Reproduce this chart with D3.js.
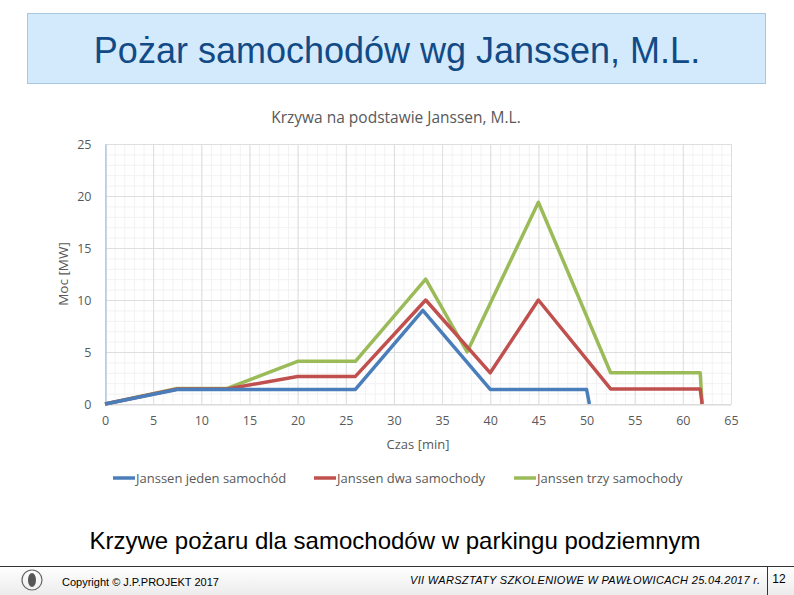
<!DOCTYPE html>
<html>
<head>
<meta charset="utf-8">
<script src="https://cdn.jsdelivr.net/npm/d3@7"></script>
<style>
  body { margin: 0; background: #fff; }
  svg { display: block; }
</style>
</head>
<body>
<div id="chart"></div>
<script>
// values
var seriesNames = ['Janssen jeden samochód', 'Janssen dwa samochody', 'Janssen trzy samochody'];
var seriesColors = ['#4a7ebb', '#c0504d', '#9bbb59'];

var jedenTime = [0, 7.5, 26, 33, 40, 50, 50.3];
var jedenPower = [0, 1.4, 1.4, 9, 1.4, 1.4, 0];

var dwaTime = [0, 7.5, 12.7, 20, 26, 33.3, 40, 45, 52.5, 61.8, 62];
var dwaPower = [0, 1.45, 1.45, 2.65, 2.65, 10, 3, 10, 1.45, 1.45, 0];

var trzyTime = [0, 7.5, 12.7, 20, 26, 33.3, 37.6, 45, 52.5, 61.8, 62];
var trzyPower = [0, 1.5, 1.5, 4.1, 4.1, 12, 5, 19.4, 3, 3, 0];

var xTicks = [0, 5, 10, 15, 20, 25, 30, 35, 40, 45, 50, 55, 60, 65];
var yTicks = [0, 5, 10, 15, 20, 25];

var width = 794, height = 595;
var plot = {left: 105, right: 731, top: 144, bottom: 404};

var svg = d3.select('#chart').append('svg')
  .attr('width', width)
  .attr('height', height);

// slide header
svg.append('rect')
  .attr('x', 27.5).attr('y', 13.5)
  .attr('width', 738).attr('height', 70)
  .attr('fill', '#d3eafc')
  .attr('stroke', '#a8c8e2');

svg.append('text')
  .attr('x', 397).attr('y', 63)
  .attr('text-anchor', 'middle')
  .attr('font-family', 'Liberation Sans, Arial, sans-serif')
  .attr('font-size', 36)
  .attr('fill', '#124a86')
  .text('Pożar samochodów wg Janssen, M.L.');

// chart title
svg.append('text')
  .attr('x', 396).attr('y', 123)
  .attr('text-anchor', 'middle')
  .attr('font-family', 'Open Sans, sans-serif')
  .attr('font-size', 15.5)
  .attr('fill', '#595959')
  .text('Krzywa na podstawie Janssen, M.L.');

var x = d3.scaleLinear().domain([0, 65]).range([plot.left, plot.right]);
var y = d3.scaleLinear().domain([0, 25]).range([plot.bottom, plot.top]);

// minor grid
svg.append('g')
  .selectAll('line')
  .data(d3.range(0, 66, 1))
  .enter().append('line')
  .attr('x1', function(d) { return x(d) + 0.5; })
  .attr('x2', function(d) { return x(d) + 0.5; })
  .attr('y1', plot.top).attr('y2', plot.bottom)
  .attr('stroke', '#f2f2f2');

svg.append('g')
  .selectAll('line')
  .data(d3.range(0, 26, 1))
  .enter().append('line')
  .attr('y1', function(d) { return y(d) + 0.5; })
  .attr('y2', function(d) { return y(d) + 0.5; })
  .attr('x1', plot.left).attr('x2', plot.right)
  .attr('stroke', '#f2f2f2');

// major grid
svg.append('g')
  .selectAll('line')
  .data(xTicks)
  .enter().append('line')
  .attr('x1', function(d) { return x(d) + 0.5; })
  .attr('x2', function(d) { return x(d) + 0.5; })
  .attr('y1', plot.top).attr('y2', plot.bottom)
  .attr('stroke', '#dedede');

svg.append('g')
  .selectAll('line')
  .data(yTicks)
  .enter().append('line')
  .attr('y1', function(d) { return y(d) + 0.5; })
  .attr('y2', function(d) { return y(d) + 0.5; })
  .attr('x1', plot.left).attr('x2', plot.right)
  .attr('stroke', '#dedede');

// axes
var xAxis = svg.append('g')
  .attr('transform', 'translate(0,' + (plot.bottom + 0.5) + ')')
  .call(d3.axisBottom(x).tickValues(xTicks).tickSize(0).tickPadding(12));
var yAxis = svg.append('g')
  .attr('transform', 'translate(' + (plot.left + 0.5) + ',0)')
  .call(d3.axisLeft(y).tickValues(yTicks).tickSize(0).tickPadding(14));

xAxis.select('.domain').attr('stroke', '#d9d9d9');
yAxis.select('.domain').attr('stroke', '#b4c7dc').attr('stroke-width', 1.5);
[xAxis, yAxis].forEach(function(a) {
  a.selectAll('text')
    .attr('font-family', 'Open Sans, sans-serif')
    .attr('font-size', 12.5)
    .attr('fill', '#595959');
});

svg.append('text')
  .attr('x', 418).attr('y', 449)
  .attr('text-anchor', 'middle')
  .attr('font-family', 'Open Sans, sans-serif')
  .attr('font-size', 13)
  .attr('fill', '#595959')
  .text('Czas [min]');

svg.append('text')
  .attr('transform', 'translate(68,274) rotate(-90)')
  .attr('text-anchor', 'middle')
  .attr('font-family', 'Open Sans, sans-serif')
  .attr('font-size', 13.5)
  .attr('fill', '#595959')
  .text('Moc [MW]');

// series lines
var series = [
  {time: jedenTime, power: jedenPower},
  {time: dwaTime, power: dwaPower},
  {time: trzyTime, power: trzyPower}
];

var line = d3.line()
  .x(function(d) { return x(d[0]); })
  .y(function(d) { return y(d[1]); });

// green first so blue ends up on top
[2, 1, 0].forEach(function(i) {
  var pts = series[i].time.map(function(t, j) { return [t, series[i].power[j]]; });
  svg.append('path')
    .datum(pts)
    .attr('d', line)
    .attr('fill', 'none')
    .attr('stroke', seriesColors[i])
    .attr('stroke-width', 3.5)
    .attr('stroke-linejoin', 'round');
});

// legend
var legendX = [113, 314, 514];
var legend = svg.append('g').selectAll('g')
  .data(seriesNames)
  .enter().append('g')
  .attr('transform', function(d, i) { return 'translate(' + legendX[i] + ',478)'; });

legend.append('line')
  .attr('x1', 0).attr('x2', 22)
  .attr('stroke', function(d, i) { return seriesColors[i]; })
  .attr('stroke-width', 3.5);

legend.append('text')
  .attr('x', 23).attr('y', 4.5)
  .attr('font-family', 'Open Sans, sans-serif')
  .attr('font-size', 13)
  .attr('fill', '#595959')
  .text(function(d) { return d; });

// caption under chart
svg.append('text')
  .attr('x', 395).attr('y', 549)
  .attr('text-anchor', 'middle')
  .attr('font-family', 'Liberation Sans, Arial, sans-serif')
  .attr('font-size', 24)
  .attr('fill', '#000')
  .text('Krzywe pożaru dla samochodów w parkingu podziemnym');

// footer
var grad = svg.append('defs').append('linearGradient')
  .attr('id', 'foot').attr('x1', 0).attr('x2', 0).attr('y1', 0).attr('y2', 1);
grad.append('stop').attr('offset', '0%').attr('stop-color', '#ffffff');
grad.append('stop').attr('offset', '100%').attr('stop-color', '#ececec');

svg.append('rect')
  .attr('x', 0).attr('y', 566).attr('width', width).attr('height', 29)
  .attr('fill', 'url(#foot)');
svg.append('line')
  .attr('x1', 0).attr('x2', width).attr('y1', 566.5).attr('y2', 566.5)
  .attr('stroke', '#333');
svg.append('line')
  .attr('x1', 767.5).attr('x2', 767.5).attr('y1', 566).attr('y2', 595)
  .attr('stroke', '#333');

// small logo stand-in
var logo = svg.append('g').attr('transform', 'translate(32,580)');
logo.append('circle').attr('r', 10).attr('fill', 'none').attr('stroke', '#666').attr('stroke-width', 1.2);
logo.append('ellipse').attr('rx', 4).attr('ry', 7).attr('fill', '#555');

svg.append('text')
  .attr('x', 62).attr('y', 586)
  .attr('font-family', 'Liberation Sans, Arial, sans-serif')
  .attr('font-size', 11)
  .attr('fill', '#000')
  .text('Copyright © J.P.PROJEKT 2017');

svg.append('text')
  .attr('x', 410).attr('y', 584)
  .attr('textLength', 350)
  .attr('lengthAdjust', 'spacing')
  .attr('font-family', 'Liberation Sans, Arial, sans-serif')
  .attr('font-size', 11)
  .attr('font-style', 'italic')
  .attr('fill', '#000')
  .text('VII WARSZTATY SZKOLENIOWE W PAWŁOWICACH   25.04.2017 r.');

svg.append('text')
  .attr('x', 779).attr('y', 583)
  .attr('text-anchor', 'middle')
  .attr('font-family', 'Liberation Sans, Arial, sans-serif')
  .attr('font-size', 12)
  .attr('fill', '#000')
  .text('12');
</script>
</body>
</html>
